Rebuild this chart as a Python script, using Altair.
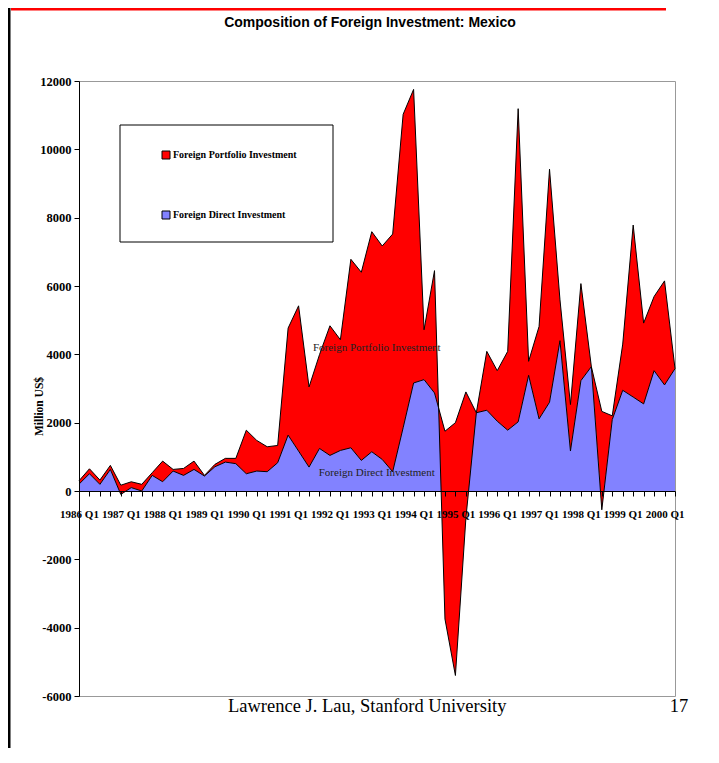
import altair as alt
import pandas as pd

# ---------------- data ----------------
quarters = [f"{y} Q{q}" for y in range(1986, 2001) for q in (1, 2, 3, 4)][:58]

fdi = [200, 505, 195, 630, -100, 100, 0, 457, 272, 584, 457, 632, 438, 710, 846, 800,
       505, 584, 565, 827, 1635, 1168, 700, 1245, 1041, 1187, 1265, 895, 1148, 924, 564, 1850,
       3162, 3260, 2870, 1750, 2000, 2900, 2290, 2364, 2043, 1780, 2024, 3386, 2111, 2598, 4400, 1170,
       3230, 3640, -550, 2090, 2948, 2750, 2549, 3522, 3104, 3581]

fpi = [100, 145, 125, 120, 270, 170, 195, 78, 603, 48, 203, 243, 19, 70, 109, 155,
       1275, 896, 730, 506, 3133, 4252, 2345, 2745, 3795, 3240, 5517, 5507, 6442, 6247, 6957, 9174,
       8592, 1459, 3580, -5496, -7400, -3700, 0, 1723, 1479, 2307, 9166, 409, 2705, 6821, 1195, 1360,
       2840, 0, 2880, 110, 1352, 5034, 2365, 2170, 3046, 0]

y_ticks = [-6000, -4000, -2000, 0, 2000, 4000, 6000, 8000, 10000, 12000]

series_names = ["Foreign Portfolio Investment", "Foreign Direct Investment"]
series_colors = ["#ff0000", "#8282ff"]

annot_quarters = ["1993 Q1", "1993 Q1"]
annot_values = [4200, 520]
annot_labels = ["Foreign Portfolio Investment", "Foreign Direct Investment"]

title_text = "Composition of Foreign Investment: Mexico"
footer_text = "Lawrence J. Lau, Stanford University"
page_text = "17"

# ---------------- tables ----------------
df = pd.DataFrame({"quarter": quarters, "FDI": fdi, "FPI": fpi})
df["Total"] = df["FDI"] + df["FPI"]
ann = pd.DataFrame({"quarter": annot_quarters, "value": annot_values, "label": annot_labels})
one = pd.DataFrame({"k": [0]})

SERIF = "Liberation Serif"
SANS = "Liberation Sans"

x_axis = alt.Axis(title=None, orient="bottom", offset=-205, labelAngle=0, labelOverlap=False,
                  labelExpr="indexof(datum.label, 'Q1') >= 0 ? datum.label : ''",
                  labelFont=SERIF, labelFontWeight="bold", labelFontSize=11, labelColor="black",
                  labelPadding=12, tickSize=5, tickColor="black", domainColor="black",
                  grid=False, labelFlush=False, zindex=1)
x_scale = alt.Scale(type="point", padding=0)

def X():
    return alt.X("quarter:O", sort=quarters, scale=x_scale, axis=x_axis)

y_scale = alt.Scale(domain=[-6000, 12000], nice=False, zero=False)
y_axis = alt.Axis(title="Million US$", values=y_ticks, labelExpr="'' + datum.value", grid=False,
                  labelFont=SERIF, labelFontWeight="bold", labelFontSize=12.5, labelColor="black",
                  labelPadding=3, tickSize=5, tickColor="black", domainColor="black",
                  titleFont=SERIF, titleFontWeight="bold", titleFontSize=11.5, titleColor="black",
                  titleX=-40, titleY=325, titleBaseline="middle", titleAngle=270, zindex=1)

color_scale = alt.Scale(domain=series_names, range=series_colors)
legend = alt.Legend(title=None, orient="none", legendX=82, legendY=69, direction="vertical",
                    symbolType="square", symbolSize=64, symbolStrokeColor="black",
                    symbolStrokeWidth=1, symbolOpacity=1,
                    labelFont=SERIF, labelFontWeight="bold", labelFontSize=10, labelColor="black",
                    labelOffset=2, rowPadding=48, padding=0)

def C():
    return alt.Color("series:N", scale=color_scale, legend=legend)

legend_box = alt.Chart(one).mark_rect(fill="white", stroke="black", strokeWidth=1).encode(
    x=alt.value(41), x2=alt.value(254), y=alt.value(44), y2=alt.value(161))

fdi_area = alt.Chart(df).transform_calculate(series=f"'{series_names[1]}'").mark_area(opacity=1).encode(
    x=X(),
    y=alt.Y("FDI:Q", scale=y_scale, axis=y_axis),
    y2=alt.Y2Datum(0),
    color=C(),
)

fpi_area = alt.Chart(df).transform_calculate(series=f"'{series_names[0]}'").mark_area(opacity=1).encode(
    x=X(),
    y=alt.Y("Total:Q", scale=y_scale, axis=y_axis),
    y2=alt.Y2("FDI:Q"),
    color=C(),
)

fdi_line = alt.Chart(df).mark_line(color="black", strokeWidth=1).encode(
    x=X(), y=alt.Y("FDI:Q", scale=y_scale, axis=y_axis))
tot_line = alt.Chart(df).mark_line(color="black", strokeWidth=1).encode(
    x=X(), y=alt.Y("Total:Q", scale=y_scale, axis=y_axis))

annots = alt.Chart(ann).mark_text(font=SERIF, fontSize=11, color="#222222", dx=5,
                                  baseline="middle", align="center").encode(
    x=X(), y=alt.Y("value:Q", scale=y_scale, axis=y_axis), text="label:N")

title = alt.Chart(one).mark_text(text=title_text, font=SANS, fontWeight="bold", fontSize=14,
                                 color="black", align="center", baseline="middle").encode(
    x=alt.value(291), y=alt.value(-58))
footer = alt.Chart(one).mark_text(text=footer_text, font=SERIF, fontSize=18.5, color="black",
                                  align="left", baseline="middle").encode(
    x=alt.value(149), y=alt.value(625))
page = alt.Chart(one).mark_text(text=page_text, font=SERIF, fontSize=18.5, color="black",
                                align="center", baseline="middle").encode(
    x=alt.value(600), y=alt.value(625))
left_bar = alt.Chart(one).mark_rule(color="black", strokeWidth=3).encode(
    x=alt.value(-70), y=alt.value(-73), y2=alt.value(667))
top_bar = alt.Chart(one).mark_rule(color="#ff0000", strokeWidth=3).encode(
    x=alt.value(-68), x2=alt.value(587), y=alt.value(-72))

chart = alt.layer(
    legend_box, fdi_area, fpi_area, fdi_line, tot_line, annots, title, footer, page, left_bar, top_bar
).properties(
    width=596, height=615,
    padding={"left": 71, "top": 73, "right": 33, "bottom": 52},
    autosize=alt.AutoSizeParams(type="none"),
    background="white",
).configure_view(stroke="#999999", strokeWidth=1)

chart.save("out.html", embed_options={"renderer": "svg", "actions": False})
